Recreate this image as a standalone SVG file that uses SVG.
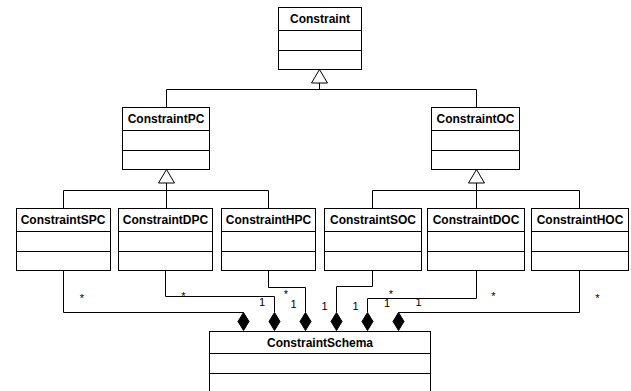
<svg xmlns="http://www.w3.org/2000/svg" width="631" height="391" viewBox="0 0 631 391">
<style>
.box{fill:#fff;stroke:#000;stroke-width:1}
.div{stroke:#000;stroke-width:1}
.t{font-family:"Liberation Sans",Arial,sans-serif;font-size:12px;font-weight:bold;text-anchor:middle;fill:#000}
.c{fill:none;stroke:#000;stroke-width:1}
.tri{fill:#fff;stroke:#000;stroke-width:1}
.dia{fill:#000;stroke:#000;stroke-width:1}
.m{font-family:"Liberation Sans",Arial,sans-serif;font-size:11px;text-anchor:middle;fill:#000}
</style>
<rect width="631" height="391" fill="#fff"/>
<g id="connectors">
<!-- generalization top -->
<polyline class="c" points="319.5,83 319.5,89.5"/>
<polyline class="c" points="166.5,107 166.5,89.5 476.5,89.5 476.5,107"/>
<polygon class="tri" points="319.5,69.5 311.5,83 327.5,83"/>
<!-- generalization PC -->
<polyline class="c" points="166.5,183 166.5,208"/>
<polyline class="c" points="63.5,208 63.5,190.5 268.5,190.5 268.5,208"/>
<polygon class="tri" points="166.5,169.5 158.5,183 174.5,183"/>
<!-- generalization OC -->
<polyline class="c" points="476.5,183 476.5,208"/>
<polyline class="c" points="372.5,208 372.5,190.5 579.5,190.5 579.5,208"/>
<polygon class="tri" points="476.5,169.5 468.5,183 484.5,183"/>
<!-- compositions -->
<polyline class="c" points="63.5,270 63.5,312.5 243.5,312.5"/>
<polyline class="c" points="165.5,270 165.5,296.5 274.5,296.5 274.5,312"/>
<polyline class="c" points="268.5,270 268.5,287.5 305.5,287.5 305.5,312"/>
<polyline class="c" points="372.5,270 372.5,286.5 336.5,286.5 336.5,312"/>
<polyline class="c" points="476.5,270 476.5,298.5 367.5,298.5 367.5,312"/>
<polyline class="c" points="579.5,270 579.5,312.5 398.5,312.5"/>
<polygon class="dia" points="243.5,312.5 249,321.5 243.5,330.5 238,321.5"/>
<polygon class="dia" points="274.5,312.5 280,321.5 274.5,330.5 269,321.5"/>
<polygon class="dia" points="305.5,312.5 311,321.5 305.5,330.5 300,321.5"/>
<polygon class="dia" points="336.5,312.5 342,321.5 336.5,330.5 331,321.5"/>
<polygon class="dia" points="367.5,312.5 373,321.5 367.5,330.5 362,321.5"/>
<polygon class="dia" points="398.5,312.5 404,321.5 398.5,330.5 393,321.5"/>
<text class="m" x="82" y="302">*</text>
<text class="m" x="183.5" y="300">*</text>
<text class="m" x="286" y="297.5">*</text>
<text class="m" x="391" y="298">*</text>
<text class="m" x="493.5" y="300">*</text>
<text class="m" x="597.5" y="302">*</text>
<text class="m" x="262" y="306">1</text>
<text class="m" x="293.5" y="308">1</text>
<text class="m" x="324.5" y="309.5">1</text>
<text class="m" x="355.5" y="309.5">1</text>
<text class="m" x="387" y="307">1</text>
<text class="m" x="418.5" y="305.5">1</text>
</g>
<g id="Constraint">
<rect class="box" x="278.5" y="7.5" width="83" height="62"/>
<line class="div" x1="278.5" y1="30.5" x2="361.5" y2="30.5"/>
<line class="div" x1="278.5" y1="50.5" x2="361.5" y2="50.5"/>
<text class="t" x="320" y="23">Constraint</text>
</g>
<g id="ConstraintPC">
<rect class="box" x="122.5" y="107.5" width="87" height="62"/>
<line class="div" x1="122.5" y1="130.5" x2="209.5" y2="130.5"/>
<line class="div" x1="122.5" y1="150.5" x2="209.5" y2="150.5"/>
<text class="t" x="166" y="123">ConstraintPC</text>
</g>
<g id="ConstraintOC">
<rect class="box" x="431.5" y="107.5" width="88" height="62"/>
<line class="div" x1="431.5" y1="130.5" x2="519.5" y2="130.5"/>
<line class="div" x1="431.5" y1="150.5" x2="519.5" y2="150.5"/>
<text class="t" x="475.5" y="123">ConstraintOC</text>
</g>
<g id="ConstraintSPC">
<rect class="box" x="16.5" y="208.5" width="94" height="62"/>
<line class="div" x1="16.5" y1="231.5" x2="110.5" y2="231.5"/>
<line class="div" x1="16.5" y1="251.5" x2="110.5" y2="251.5"/>
<text class="t" x="63" y="224">ConstraintSPC</text>
</g>
<g id="ConstraintDPC">
<rect class="box" x="118.5" y="208.5" width="94" height="62"/>
<line class="div" x1="118.5" y1="231.5" x2="212.5" y2="231.5"/>
<line class="div" x1="118.5" y1="251.5" x2="212.5" y2="251.5"/>
<text class="t" x="165.5" y="224">ConstraintDPC</text>
</g>
<g id="ConstraintHPC">
<rect class="box" x="221.5" y="208.5" width="94" height="62"/>
<line class="div" x1="221.5" y1="231.5" x2="315.5" y2="231.5"/>
<line class="div" x1="221.5" y1="251.5" x2="315.5" y2="251.5"/>
<text class="t" x="268.5" y="224">ConstraintHPC</text>
</g>
<g id="ConstraintSOC">
<rect class="box" x="324.5" y="208.5" width="97" height="62"/>
<line class="div" x1="324.5" y1="231.5" x2="421.5" y2="231.5"/>
<line class="div" x1="324.5" y1="251.5" x2="421.5" y2="251.5"/>
<text class="t" x="373" y="224">ConstraintSOC</text>
</g>
<g id="ConstraintDOC">
<rect class="box" x="427.5" y="208.5" width="97" height="62"/>
<line class="div" x1="427.5" y1="231.5" x2="524.5" y2="231.5"/>
<line class="div" x1="427.5" y1="251.5" x2="524.5" y2="251.5"/>
<text class="t" x="476" y="224">ConstraintDOC</text>
</g>
<g id="ConstraintHOC">
<rect class="box" x="531.5" y="208.5" width="97" height="62"/>
<line class="div" x1="531.5" y1="231.5" x2="628.5" y2="231.5"/>
<line class="div" x1="531.5" y1="251.5" x2="628.5" y2="251.5"/>
<text class="t" x="580" y="224">ConstraintHOC</text>
</g>
<g id="ConstraintSchema">
<rect class="box" x="209.5" y="331.5" width="221" height="66"/>
<line class="div" x1="209.5" y1="353.5" x2="430.5" y2="353.5"/>
<line class="div" x1="209.5" y1="373.5" x2="430.5" y2="373.5"/>
<text class="t" x="320" y="347">ConstraintSchema</text>
</g>
</svg>
